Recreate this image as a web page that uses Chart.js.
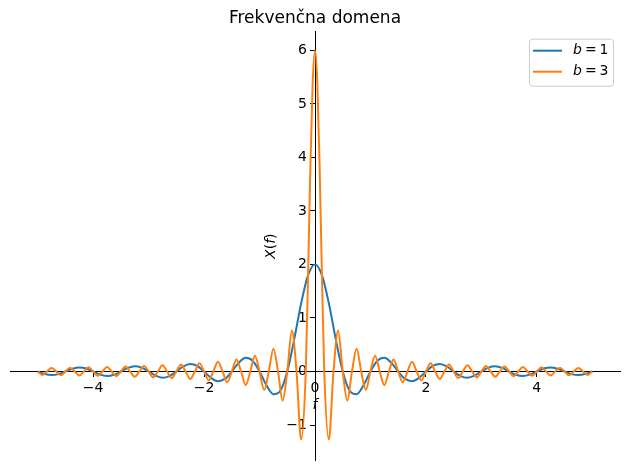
<!DOCTYPE html>
<html><head><meta charset="utf-8">
<script src="https://cdn.jsdelivr.net/npm/chart.js@4.4.1/dist/chart.umd.min.js"></script>
<style>html,body{margin:0;padding:0;background:#fff;}canvas{display:block;}</style>
</head><body>
<canvas id="c" width="630" height="470" style="width:630px;height:470px"></canvas>
<script>
const chartTitle = 'Frekvenčna domena';
const xLabel = 'f';
const seriesLabels = ['b = 1', 'b = 3'];
const seriesColors = ['#1f77b4', '#ff7f0e'];
const xTicks = [-4, -2, 0, 2, 4];
const yTicks = [-1, 0, 1, 2, 3, 4, 5, 6];

const blueF = [-5, -4.875, -4.75, -4.625, -4.5, -4.375, -4.25, -4.125, -4, -3.875, -3.75, -3.625, -3.5, -3.375, -3.25, -3.125, -3, -2.875, -2.75, -2.625, -2.5, -2.375, -2.25, -2.125, -2, -1.875, -1.75, -1.625, -1.5, -1.375, -1.25, -1.125, -1, -0.875, -0.75, -0.625, -0.5, -0.375, -0.25, -0.125, 0, 0.125, 0.25, 0.375, 0.5, 0.625, 0.75, 0.875, 1, 1.125, 1.25, 1.375, 1.5, 1.625, 1.75, 1.875, 2, 2.125, 2.25, 2.375, 2.5, 2.625, 2.75, 2.875, 3, 3.125, 3.25, 3.375, 3.5, 3.625, 3.75, 3.875, 4, 4.125, 4.25, 4.375, 4.5, 4.625, 4.75, 4.875, 5];
const blueX = [0, -0.046, -0.067, -0.049, 0, 0.051, 0.075, 0.055, 0, -0.058, -0.085, -0.062, 0, 0.067, 0.098, 0.072, 0, -0.078, -0.116, -0.086, 0, 0.095, 0.141, 0.106, 0, -0.120, -0.182, -0.139, 0, 0.164, 0.255, 0.200, 0, -0.257, -0.424, -0.360, 0, 0.600, 1.273, 1.801, 2, 1.801, 1.273, 0.600, 0, -0.360, -0.424, -0.257, 0, 0.200, 0.255, 0.164, 0, -0.139, -0.182, -0.120, 0, 0.106, 0.141, 0.095, 0, -0.086, -0.116, -0.078, 0, 0.072, 0.098, 0.067, 0, -0.062, -0.085, -0.058, 0, 0.055, 0.075, 0.051, 0, -0.049, -0.067, -0.046, 0];

const orangeF = [-5, -4.9167, -4.8333, -4.75, -4.6667, -4.5833, -4.5, -4.4167, -4.3333, -4.25, -4.1667, -4.0833, -4, -3.9167, -3.8333, -3.75, -3.6667, -3.5833, -3.5, -3.4167, -3.3333, -3.25, -3.1667, -3.0833, -3, -2.9167, -2.8333, -2.75, -2.6667, -2.5833, -2.5, -2.4167, -2.3333, -2.25, -2.1667, -2.0833, -2, -1.9167, -1.8333, -1.75, -1.6667, -1.5833, -1.5, -1.4167, -1.3333, -1.25, -1.1667, -1.0833, -1, -0.9167, -0.8333, -0.75, -0.6667, -0.5833, -0.5, -0.4167, -0.3333, -0.25, -0.1667, -0.125, -0.0833, -0.0417, 0, 0.0417, 0.0833, 0.125, 0.1667, 0.25, 0.3333, 0.4167, 0.5, 0.5833, 0.6667, 0.75, 0.8333, 0.9167, 1, 1.0833, 1.1667, 1.25, 1.3333, 1.4167, 1.5, 1.5833, 1.6667, 1.75, 1.8333, 1.9167, 2, 2.0833, 2.1667, 2.25, 2.3333, 2.4167, 2.5, 2.5833, 2.6667, 2.75, 2.8333, 2.9167, 3, 3.0833, 3.1667, 3.25, 3.3333, 3.4167, 3.5, 3.5833, 3.6667, 3.75, 3.8333, 3.9167, 4, 4.0833, 4.1667, 4.25, 4.3333, 4.4167, 4.5, 4.5833, 4.6667, 4.75, 4.8333, 4.9167, 5];
const orangeX = [0, -0.065, 0, 0.067, 0, -0.069, 0, 0.072, 0, -0.075, 0, 0.078, 0, -0.081, 0, 0.085, 0, -0.089, 0, 0.093, 0, -0.098, 0, 0.103, 0, -0.109, 0, 0.116, 0, -0.123, 0, 0.132, 0, -0.141, 0, 0.153, 0, -0.166, 0, 0.182, 0, -0.201, 0, 0.225, 0, -0.255, 0, 0.294, 0, -0.347, 0, 0.424, 0, -0.546, 0, 0.764, 0, -1.273, 0, 1.801, 3.820, 5.402, 6, 5.402, 3.820, 1.801, 0, -1.273, 0, 0.764, 0, -0.546, 0, 0.424, 0, -0.347, 0, 0.294, 0, -0.255, 0, 0.225, 0, -0.201, 0, 0.182, 0, -0.166, 0, 0.153, 0, -0.141, 0, 0.132, 0, -0.123, 0, 0.116, 0, -0.109, 0, 0.103, 0, -0.098, 0, 0.093, 0, -0.089, 0, 0.085, 0, -0.081, 0, 0.078, 0, -0.075, 0, 0.072, 0, -0.069, 0, 0.067, 0, -0.065, 0];

const FONT = 'DejaVu Sans';
const fmt = v => String(v).replace('-', '\u2212');

const decorations = {
  id: 'decorations',
  afterDraw(chart) {
    const ctx = chart.ctx;
    const a = chart.chartArea;
    const ys = chart.scales.y;
    ctx.save();
    ctx.fillStyle = '#000';
    ctx.textBaseline = 'middle';
    // x label
    ctx.font = 'italic 14px "' + FONT + '"';
    ctx.textAlign = 'center';
    const cx = (a.left + a.right) / 2;
    ctx.fillText(xLabel, cx, ys.getPixelForValue(0) + 34);
    // y label X(f) rotated
    ctx.save();
    ctx.translate(cx - 44, (a.top + a.bottom) / 2);
    ctx.rotate(-Math.PI / 2);
    const parts = [['X', true], ['(', false], ['f', true], [')', false]];
    let total = 0;
    parts.forEach(p => { ctx.font = (p[1] ? 'italic ' : '') + '14px "' + FONT + '"'; total += ctx.measureText(p[0]).width; });
    let px = -total / 2;
    ctx.textAlign = 'left';
    parts.forEach(p => { ctx.font = (p[1] ? 'italic ' : '') + '14px "' + FONT + '"'; ctx.fillText(p[0], px, 0); px += ctx.measureText(p[0]).width; });
    ctx.restore();
    // legend
    const bw = 84, bh = 47;
    const bx = a.right - 7 - bw, by = a.top + 7;
    ctx.beginPath();
    ctx.roundRect(bx + 0.5, by + 0.5, bw, bh, 3);
    ctx.fillStyle = 'rgba(255,255,255,0.8)';
    ctx.fill();
    ctx.strokeStyle = '#cccccc';
    ctx.lineWidth = 1;
    ctx.stroke();
    chart.data.datasets.forEach((ds, i) => {
      const ly = by + 12 + i * 21;
      ctx.beginPath();
      ctx.moveTo(bx + 4, ly);
      ctx.lineTo(bx + 33, ly);
      ctx.strokeStyle = ds.borderColor;
      ctx.lineWidth = 2;
      ctx.stroke();
      const lab = ds.label.split(' ');
      let tx = bx + 44;
      ctx.fillStyle = '#000';
      ctx.textAlign = 'left';
      ctx.font = 'italic 14px "' + FONT + '"';
      ctx.fillText(lab[0], tx, ly);
      tx += ctx.measureText(lab[0]).width + 3;
      ctx.font = '14px "' + FONT + '"';
      ctx.fillText(lab[1], tx, ly);
      tx += ctx.measureText(lab[1]).width + 3;
      ctx.fillText(lab[2], tx, ly);
    });
    ctx.restore();
  }
};

const axisCommon = {
  type: 'linear',
  z: 1,
  grid: { drawOnChartArea: false, drawTicks: true, tickLength: 5, tickColor: '#000', tickWidth: 1 },
  border: { display: true, color: '#000', width: 1 },
  ticks: { color: '#000', font: { family: FONT, size: 14 }, padding: 3, callback: v => fmt(v) },
  afterFit: s => { s.paddingTop = 0; s.paddingBottom = 0; s.paddingLeft = 0; s.paddingRight = 0; }
};

new Chart(document.getElementById('c'), {
  type: 'line',
  data: {
    datasets: [
      { label: seriesLabels[0], data: blueF.map((f, i) => ({ x: f, y: blueX[i] })), borderColor: seriesColors[0], order: 2 },
      { label: seriesLabels[1], data: orangeF.map((f, i) => ({ x: f, y: orangeX[i] })), borderColor: seriesColors[1], order: 1 }
    ]
  },
  options: {
    responsive: false,
    animation: false,
    layout: { padding: { left: 10, right: 10, top: 0, bottom: 9.3 } },
    elements: {
      point: { radius: 0 },
      line: { borderWidth: 2, cubicInterpolationMode: 'monotone', fill: false }
    },
    plugins: {
      legend: { display: false },
      tooltip: { enabled: false },
      title: { display: true, text: chartTitle, color: '#000', font: { family: FONT, size: 17, weight: 'normal' }, padding: { top: 8, bottom: 3.3 } }
    },
    scales: {
      x: Object.assign({}, axisCommon, {
        min: -5.5, max: 5.5, position: { y: 0 },
        afterBuildTicks: s => { s.ticks = xTicks.map(v => ({ value: v })); }
      }),
      y: Object.assign({}, axisCommon, {
        min: -1.667, max: 6.35, position: 'center',
        afterBuildTicks: s => { s.ticks = yTicks.map(v => ({ value: v })); }
      })
    }
  },
  plugins: [decorations]
});
</script>
</body></html>
